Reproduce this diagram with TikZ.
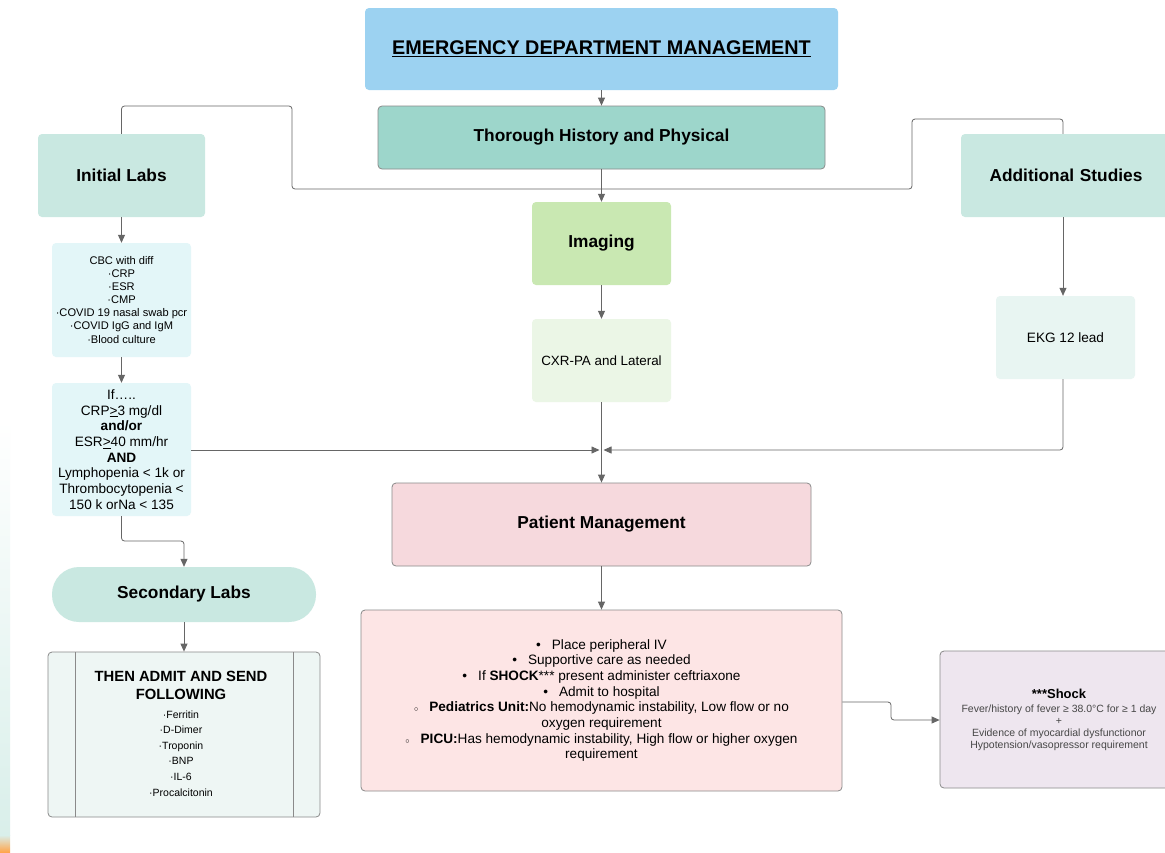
\documentclass[tikz,border=0pt]{standalone}
\usepackage{fontspec}
\setmainfont{Liberation Sans}
\usetikzlibrary{arrows.meta}
\definecolor{cTitle}{HTML}{9CD2F1}
\definecolor{cHist}{HTML}{9DD6CB}
\definecolor{cLab}{HTML}{C9E8E1}
\definecolor{cImg}{HTML}{C9E8B2}
\definecolor{cCbc}{HTML}{E3F6F8}
\definecolor{cCxr}{HTML}{EBF6E6}
\definecolor{cEkg}{HTML}{E8F5F2}
\definecolor{cPm}{HTML}{F6D9DD}
\definecolor{cPink}{HTML}{FDE5E5}
\definecolor{cThen}{HTML}{EEF6F4}
\definecolor{cShock}{HTML}{EEE6EF}
\definecolor{cBorder}{HTML}{8A8A8A}
\definecolor{cLine}{HTML}{666666}
\newcommand\fs[2]{\fontsize{#1}{#2}\selectfont}
\begin{document}
\begin{tikzpicture}[x=1pt,y=-1pt,
  box/.style={rounded corners=4pt, align=center, inner sep=2pt},
  bordered/.style={box, draw=cBorder, line width=0.8pt},
  conn/.style={draw=cLine, line width=0.8pt, rounded corners=3pt},
  arr/.style={conn, -{Triangle[length=8pt,width=7pt]}},
  hd/.style={font=\fs{17.3}{20}\bfseries}
]
\useasboundingbox (0,0) rectangle (1165,852);
\fill[white] (0,0) rectangle (1165,852);
% left decorative strip
\shade[top color=white, bottom color=cLab!70] (0,420) rectangle (10,835);
\shade[top color=cLab!70, bottom color=orange!70] (0,835) rectangle (10,852);

% nodes
\node[box, fill=cTitle, minimum width=473pt, minimum height=82pt, font=\fs{19.8}{23}\bfseries] (title) at (601.5,49) {\underline{EMERGENCY DEPARTMENT MANAGEMENT}};
\node[bordered, fill=cHist, minimum width=447pt, minimum height=63pt, hd] (hist) at (601.5,137.5) {Thorough History and Physical};
\node[box, fill=cLab, minimum width=167pt, minimum height=83pt, hd] (ilabs) at (121.5,175.5) {Initial Labs};
\node[box, fill=cLab, minimum width=210pt, minimum height=83pt, hd, text width=200pt] (addl) at (1066,175.5) {Additional Studies};
\node[box, fill=cImg, minimum width=139pt, minimum height=83pt, hd] (img) at (601.5,243.5) {Imaging};
\node[box, fill=cCbc, minimum width=139pt, minimum height=114pt, font=\fs{11.1}{13}] (cbc) at (121.5,300) {CBC with diff\\·CRP\\·ESR\\·CMP\\·COVID 19 nasal swab pcr\\·COVID IgG and IgM\\[1pt]·Blood culture};
\node[box, fill=cCxr, minimum width=139pt, minimum height=83pt, font=\fs{13.4}{16}] (cxr) at (601.5,360.5) {CXR-PA and Lateral};
\node[box, fill=cEkg, minimum width=139pt, minimum height=83pt, font=\fs{13.6}{16}] (ekg) at (1065.5,337.5) {EKG 12 lead};
\node[box, fill=cCbc, minimum width=139pt, minimum height=133pt, font=\fs{13.6}{15.7}] (ifb) at (121.5,449.5) {If\ldots..\\CRP\underline{>}3 mg/dl\\\textbf{and/or}\\ESR\underline{>}40 mm/hr\\\textbf{AND}\\Lymphopenia < 1k or\\Thrombocytopenia <\\150 k orNa < 135};
\node[bordered, fill=cPm, minimum width=419pt, minimum height=83pt, hd] (pm) at (601.5,524.5) {Patient Management};
\node[box, rounded corners=27pt, fill=cLab, minimum width=264pt, minimum height=55pt, hd] (sec) at (184,594.5) {Secondary Labs};
\node[bordered, fill=cThen, minimum width=272pt, minimum height=165pt] (then) at (184,734.5) {};
\draw[cBorder, line width=0.8pt] (75,652) -- (75,817) (293,652) -- (293,817);
\node[font=\fs{14.8}{18}\bfseries, align=center, anchor=north] (thenh) at (181,668) {THEN ADMIT AND SEND\\FOLLOWING};
\node[font=\fs{10.5}{15.6}, align=center, anchor=north] (thenl) at (181,707) {·Ferritin\\·D-Dimer\\·Troponin\\·BNP\\·IL-6\\·Procalcitonin};
\node[bordered, fill=cPink, minimum width=481pt, minimum height=181pt, font=\fs{13.6}{15.7}] (pink) at (601.5,700.5) {%
\textbullet\hspace{11pt}Place peripheral IV\\
\textbullet\hspace{11pt}Supportive care as needed\\
\textbullet\hspace{11pt}If \textbf{SHOCK}*** present administer ceftriaxone\\
\textbullet\hspace{11pt}Admit to hospital\\
{\fs{8}{8}$\circ$}\hspace{11pt}\textbf{Pediatrics Unit:}No hemodynamic instability, Low flow or no\\
oxygen requirement\\
{\fs{8}{8}$\circ$}\hspace{11pt}\textbf{PICU:}Has hemodynamic instability, High flow or higher oxygen\\
requirement};
\node[bordered, fill=cShock, minimum width=232pt, minimum height=137pt] (shock) at (1056,719.5) {};
\node[font=\fs{13}{16}\bfseries, anchor=base] (shockh) at (1059,698) {***Shock};
\node[font=\fs{10.5}{12}, text=black!72, align=center, anchor=north] (shockb) at (1059,701) {Fever/history of fever ≥ 38.0°C for ≥ 1 day\\+\\Evidence of myocardial dysfunctionor\\Hypotension/vasopressor requirement};

% junction coordinates
\coordinate (j1) at (601.5,189);
\coordinate (j2) at (601.5,450);
\coordinate (j2l) at (599.5,450);
\coordinate (j2r) at (603.5,450);

% connectors
\draw[arr] (title.south) -- (hist.north);
\draw[arr] (hist.south) -- (img.north);
\draw[conn] (ilabs.north) -- (121.5,106) -- (292,106) -- (292,189) -- (j1);
\draw[conn] (addl.north -| 1063,0) -- (1063,119) -- (912,119) -- (912,189) -- (j1);
\draw[arr] (ilabs.south) -- (cbc.north);
\draw[arr] (cbc.south) -- (ifb.north);
\draw[arr] (ifb.east |- j2) -- (j2l);
\draw[arr] (addl.south -| 1063,0) -- (ekg.north -| 1063,0);
\draw[arr] (ekg.south -| 1063,0) -- (1063,450) -- (j2r);
\draw[arr] (img.south) -- (cxr.north);
\draw[arr] (cxr.south) -- (pm.north);
\draw[arr] (ifb.south) -- (121.5,541) -- (184,541) -- (sec.north);
\draw[arr] (sec.south) -- (then.north);
\draw[arr] (pm.south) -- (pink.north);
\draw[arr] (pink.east |- 0,702) -- (891,702) -- (891,720) -- (shock.west |- 0,720);
\end{tikzpicture}
\end{document}
